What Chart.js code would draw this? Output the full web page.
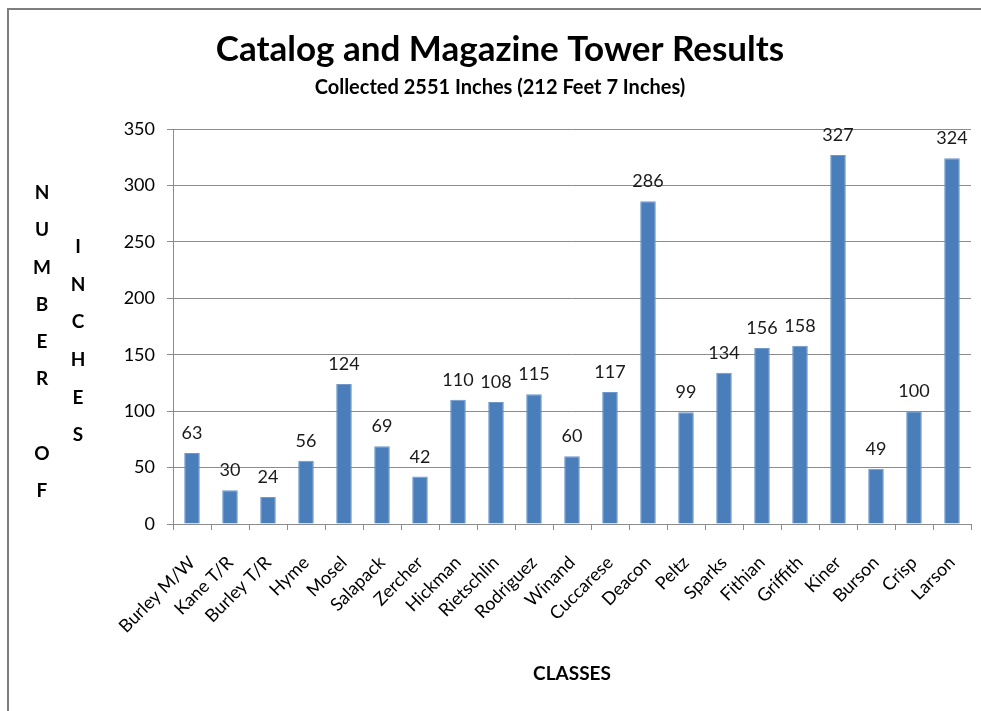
<!DOCTYPE html>
<html>
<head>
<meta charset="utf-8">
<script src="https://cdn.jsdelivr.net/npm/chart.js@4/dist/chart.umd.min.js"></script>
<style>
  html, body { margin: 0; padding: 0; background: #fff; }
  #towerChart { display: block; }
</style>
</head>
<body>
<canvas id="towerChart" width="981" height="711"></canvas>
<script>
/* global Chart:false */

var classNames = [
  "Burley M/W", "Kane T/R", "Burley T/R", "Hyme", "Mosel", "Salapack", "Zercher",
  "Hickman", "Rietschlin", "Rodriguez", "Winand", "Cuccarese", "Deacon", "Peltz",
  "Sparks", "Fithian", "Griffith", "Kiner", "Burson", "Crisp", "Larson"
];
var inchesCollected = [63, 30, 24, 56, 124, 69, 42, 110, 108, 115, 60, 117, 286, 99, 134, 156, 158, 327, 49, 100, 324];
var yTicks = [0, 50, 100, 150, 200, 250, 300, 350];

var fontFamily = "Lato, 'Open Sans', sans-serif";
var gridColor = "#8c8c8c";

// value printed above each bar
var barLabels = {
  id: "barLabels",
  afterDatasetsDraw: function (chart) {
    var ctx = chart.ctx;
    var meta = chart.getDatasetMeta(0);
    ctx.save();
    ctx.font = "18px " + fontFamily;
    ctx.fillStyle = "#1a1a1a";
    ctx.textAlign = "center";
    ctx.textBaseline = "alphabetic";
    meta.data.forEach(function (bar, i) {
      ctx.fillText(String(inchesCollected[i]), bar.x, bar.y - 14);
    });
    ctx.restore();
  },
};

// stacked letters for the y title and the frame of the sheet
var sideTitle = {
  id: "sideTitle",
  beforeDraw: function (chart) {
    var ctx = chart.ctx;
    ctx.save();
    ctx.fillStyle = "#fff";
    ctx.fillRect(0, 0, chart.width, chart.height);
    ctx.fillStyle = "#7f7f7f";
    ctx.fillRect(7, 8, chart.width, 2);
    ctx.fillRect(7, 8, 2, chart.height);
    ctx.restore();
  },
  afterDraw: function (chart) {
    var ctx = chart.ctx;
    ctx.save();
    ctx.font = "bold 19px " + fontFamily;
    ctx.fillStyle = "#000";
    ctx.textAlign = "center";
    ctx.textBaseline = "middle";
    "NUMBER OF".split("").forEach(function (ch, i) {
      ctx.fillText(ch, 42, 193 + i * 37.2);
    });
    "INCHES".split("").forEach(function (ch, i) {
      ctx.fillText(ch, 78, 247 + i * 37.6);
    });
    ctx.restore();
  },
};

new Chart(document.getElementById("towerChart"), {
  type: "bar",
  data: {
    labels: classNames,
    datasets: [
      {
        label: "Inches",
        data: inchesCollected,
        backgroundColor: "#4a7ebb",
        borderColor: "#6f98c9",
        borderWidth: 1,
        categoryPercentage: 1,
        barPercentage: 0.41,
      },
    ],
  },
  options: {
    responsive: false,
    animation: false,
    devicePixelRatio: 1,
    layout: {
      padding: { left: 29, right: 10, top: 0, bottom: 0 },
    },
    plugins: {
      legend: { display: false },
      tooltip: { enabled: false },
      title: {
        display: true,
        text: "Catalog and Magazine Tower Results",
        color: "#000",
        font: { family: fontFamily, size: 35, weight: "bold", lineHeight: 1.2 },
        padding: { top: 29, bottom: 2 },
      },
      subtitle: {
        display: true,
        text: "Collected 2551 Inches (212 Feet 7 Inches)",
        color: "#000",
        font: { family: fontFamily, size: 20, weight: "bold", lineHeight: 1.2 },
        padding: { top: 3, bottom: 29 },
      },
    },
    scales: {
      x: {
        afterFit: function (scale) {
          scale.height = 187;
          scale.paddingLeft = 0;
          scale.paddingRight = 0;
        },
        grid: {
          display: true,
          drawOnChartArea: false,
          drawTicks: true,
          tickLength: 6,
          color: gridColor,
        },
        border: { color: gridColor },
        ticks: {
          autoSkip: false,
          minRotation: 45,
          maxRotation: 45,
          color: "#000",
          padding: 22,
          font: { family: fontFamily, size: 18 },
        },
        title: {
          display: true,
          text: "CLASSES",
          color: "#000",
          font: { family: fontFamily, size: 19, weight: "bold", lineHeight: 1.2 },
          padding: { top: 0, bottom: 26 },
        },
      },
      y: {
        min: 0,
        max: 350,
        afterFit: function (scale) {
          scale.width = 144;
        },
        afterBuildTicks: function (scale) {
          scale.ticks = yTicks.map(function (v) {
            return { value: v };
          });
        },
        grid: {
          color: gridColor,
          tickLength: 6,
        },
        border: { color: gridColor },
        ticks: {
          color: "#000",
          padding: 12,
          font: { family: fontFamily, size: 18 },
        },
      },
    },
  },
  plugins: [barLabels, sideTitle],
});
</script>
</body>
</html>
